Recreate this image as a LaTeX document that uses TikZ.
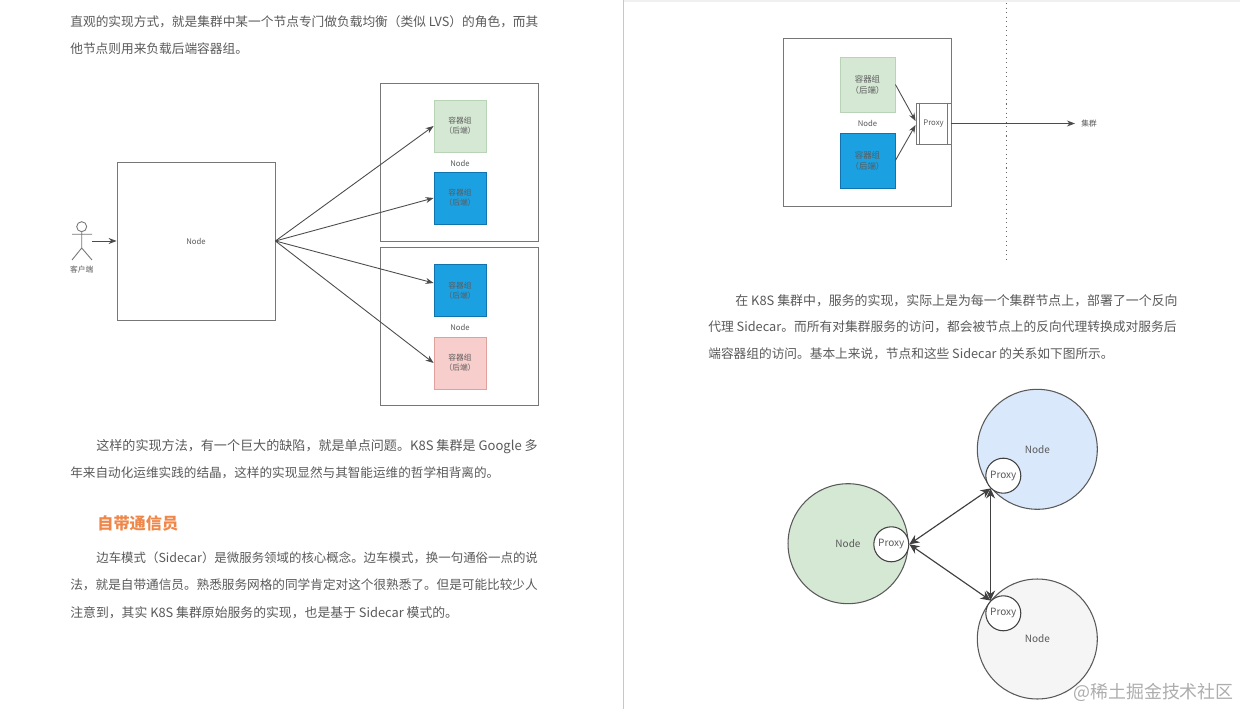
\documentclass[tikz,border=0pt]{standalone}
\usepackage{fontspec}
\setmainfont{Noto Sans CJK SC}
\usetikzlibrary{arrows.meta, positioning, calc}
\definecolor{inkline}{HTML}{777777}
\definecolor{inktext}{HTML}{5A5A5A}
\definecolor{inkhead}{HTML}{F0874A}
\definecolor{fillgreen}{HTML}{D5E8D4}
\definecolor{edgegreen}{HTML}{B9D3B6}
\definecolor{fillblue}{HTML}{1BA1E2}
\definecolor{edgeblue}{HTML}{0F74AE}
\definecolor{fillpink}{HTML}{F8CECC}
\definecolor{edgepink}{HTML}{E0A09C}
\definecolor{fillsky}{HTML}{DAE8FC}
\definecolor{fillgrey}{HTML}{F5F5F5}
\tikzset{
  frame/.style={draw=inkline, line width=0.5pt, text=inktext, font=\fontsize{4.4}{5}\selectfont, inner sep=0pt},
  pod/.style={draw, line width=0.45pt, text=inktext, align=center, inner sep=0pt, font=\fontsize{4.4}{5.6}\selectfont},
  ball/.style={circle, draw=black!65, line width=0.6pt, minimum size=2.4cm, inner sep=0pt, text=inktext, font=\fontsize{5.7}{7}\selectfont},
  proxyball/.style={circle, draw=black!75, fill=white, line width=0.6pt, minimum size=0.7cm, inner sep=0pt, text=inktext, font=\fontsize{5.7}{7}\selectfont},
  tag/.style={text=inktext, inner sep=0pt, font=\fontsize{4.4}{5}\selectfont},
  para/.style={anchor=west, text=inktext, inner sep=0pt, yshift=-0.025cm},
  link/.style={draw=black!70, line width=0.5pt, -{Stealth[length=1.6mm, width=1.2mm]}},
  twolink/.style={draw=black!75, line width=0.65pt, {Stealth[length=2mm, width=1.8mm]}-{Stealth[length=2mm, width=1.8mm]}}
}
\begin{document}
\begin{tikzpicture}[x=0.02cm, y=-0.02cm]
    \fill[white] (0,0) rectangle (1240,709);
    \useasboundingbox (0,0) rectangle (1240,709);
    \fill[black!6] (624,0) rectangle (1240,2.5);
    \draw[black!22, line width=0.6pt] (623.5,0) -- (623.5,709);

    \foreach \n/\x/\y/\s/\t in {
      a/70/20/7.23/{直观的实现方式，就是集群中某一个节点专门做负载均衡（类似 LVS）的角色，而其},
      b/70/47/7.22/{他节点则用来负载后端容器组。},
      c/96/445/7.44/{这样的实现方法，有一个巨大的缺陷，就是单点问题。K8S 集群是 Google 多},
      d/70/472/7.18/{年来自动化运维实践的结晶，这样的实现显然与其智能运维的哲学相背离的。},
      e/96/557/7.08/{边车模式（Sidecar）是微服务领域的核心概念。边车模式，换一句通俗一点的说},
      f/70/584/7.19/{法，就是自带通信员。熟悉服务网格的同学肯定对这个很熟悉了。但是可能比较少人},
      g/70/611/7.31/{注意到，其实 K8S 集群原始服务的实现，也是基于 Sidecar 模式的。},
      h/735/299/7.35/{在 K8S 集群中，服务的实现，实际上是为每一个集群节点上，部署了一个反向},
      i/708/326/7.26/{代理 Sidecar。而所有对集群服务的访问，都会被节点上的反向代理转换成对服务后},
      j/708/353/7.22/{端容器组的访问。基本上来说，节点和这些 Sidecar 的关系如下图所示。}}{%
      \node[para, font=\fontsize{\s}{10}\selectfont] (line\n) at (\x,\y) {\t};}
    \node[para, text=inkhead, font=\fontsize{9.2}{11}\selectfont\bfseries] (heading) at (97,522) {自带通信员};

    \node[frame, minimum size=3.16cm] (entry) at (196,241) {Node};
    \node[frame, minimum size=3.16cm] (groupa) at (459.8,162) {};
    \node[frame, minimum size=3.16cm] (groupb) at (459.8,326) {};
    \node[pod, fill=fillgreen, draw=edgegreen, minimum size=1.04cm] (poda) at (460,126) {容器组\\（后端）};
    \node[pod, fill=fillblue, draw=edgeblue, minimum size=1.04cm] (podb) at (460,198) {容器组\\（后端）};
    \node[pod, fill=fillblue, draw=edgeblue, minimum size=1.04cm] (podc) at (460,290.5) {容器组\\（后端）};
    \node[pod, fill=fillpink, draw=edgepink, minimum size=1.04cm] (podd) at (460,363) {容器组\\（后端）};
    \node[tag] (taga) at (460,163) {Node};
    \node[tag] (tagb) at (460,327) {Node};

    \draw[inkline, line width=0.5pt] (81.7,226.7) circle (5);
    \coordinate (head) at (81.7,231.7);
    \draw[inkline, line width=0.5pt] (head) -- (81.7,248) -- (72,260) (81.7,248) -- (92,260) (72,234.3) -- (92,234.3);
    \node[tag] (client) at (81.7,270) {客户端};
    \coordinate (clientout) at (92,241);
    \draw[link] (clientout) -- (entry.west);
    \draw[link] (entry.east) -- (poda.west);
    \draw[link] (entry.east) -- (podb.west);
    \draw[link] (entry.east) -- ([yshift=0.15cm]podc.west);
    \draw[link] (entry.east) -- (podd.west);

    \node[frame, minimum size=3.36cm] (host) at (867,122.5) {};
    \node[pod, fill=fillgreen, draw=edgegreen, minimum size=1.1cm, font=\fontsize{4.8}{6.2}\selectfont] (sidea) at (867.5,84.5) {容器组\\（后端）};
    \node[pod, fill=fillblue, draw=edgeblue, minimum size=1.1cm, font=\fontsize{4.8}{6.2}\selectfont] (sideb) at (867.5,160.5) {容器组\\（后端）};
    \node[tag] (taghost) at (867.5,123.5) {Node};
    \node[frame, fill=white, minimum width=0.7cm, minimum height=0.82cm] (proxy) at (933.5,123.5) {Proxy};
    \draw[inkline, line width=0.5pt] ([xshift=0.08cm]proxy.north west) -- ([xshift=0.08cm]proxy.south west);
    \draw[inkline, line width=0.5pt] ([xshift=-0.08cm]proxy.north east) -- ([xshift=-0.08cm]proxy.south east);
    \draw[link] (sidea.east) -- ([yshift=0.05cm]proxy.west);
    \draw[link] (sideb.east) -- ([yshift=-0.03cm]proxy.west);
    \node[tag] (cluster) at (1089,123.5) {集群};
    \draw[link] (proxy.east) -- ([xshift=-0.12cm]cluster.west);
    \draw[black!60, line width=0.6pt, dotted] (1006.5,3) -- (1006.5,259);

    \node[ball, fill=fillgreen] (hostg) at (848,543.7) {Node};
    \node[ball, fill=fillsky] (hostb) at (1037.3,449.3) {Node};
    \node[ball, fill=fillgrey] (hostw) at (1037.3,639) {Node};
    \node[proxyball] (proxyg) at (891.3,544.3) {Proxy};
    \node[proxyball] (proxyb) at (1003.3,475.7) {Proxy};
    \node[proxyball] (proxyw) at (1003.3,613.3) {Proxy};
    \draw[twolink] (proxyg.east) -- (proxyb.south west);
    \draw[twolink] (proxyg.east) -- (proxyw.north west);
    \draw[twolink] (proxyb.south west) -- (proxyw.north west);

    \node[anchor=west, inner sep=0pt, text=black!32, font=\fontsize{10.2}{12}\selectfont] (mark) at (1073,692) {@稀土掘金技术社区};
\end{tikzpicture}
\end{document}
